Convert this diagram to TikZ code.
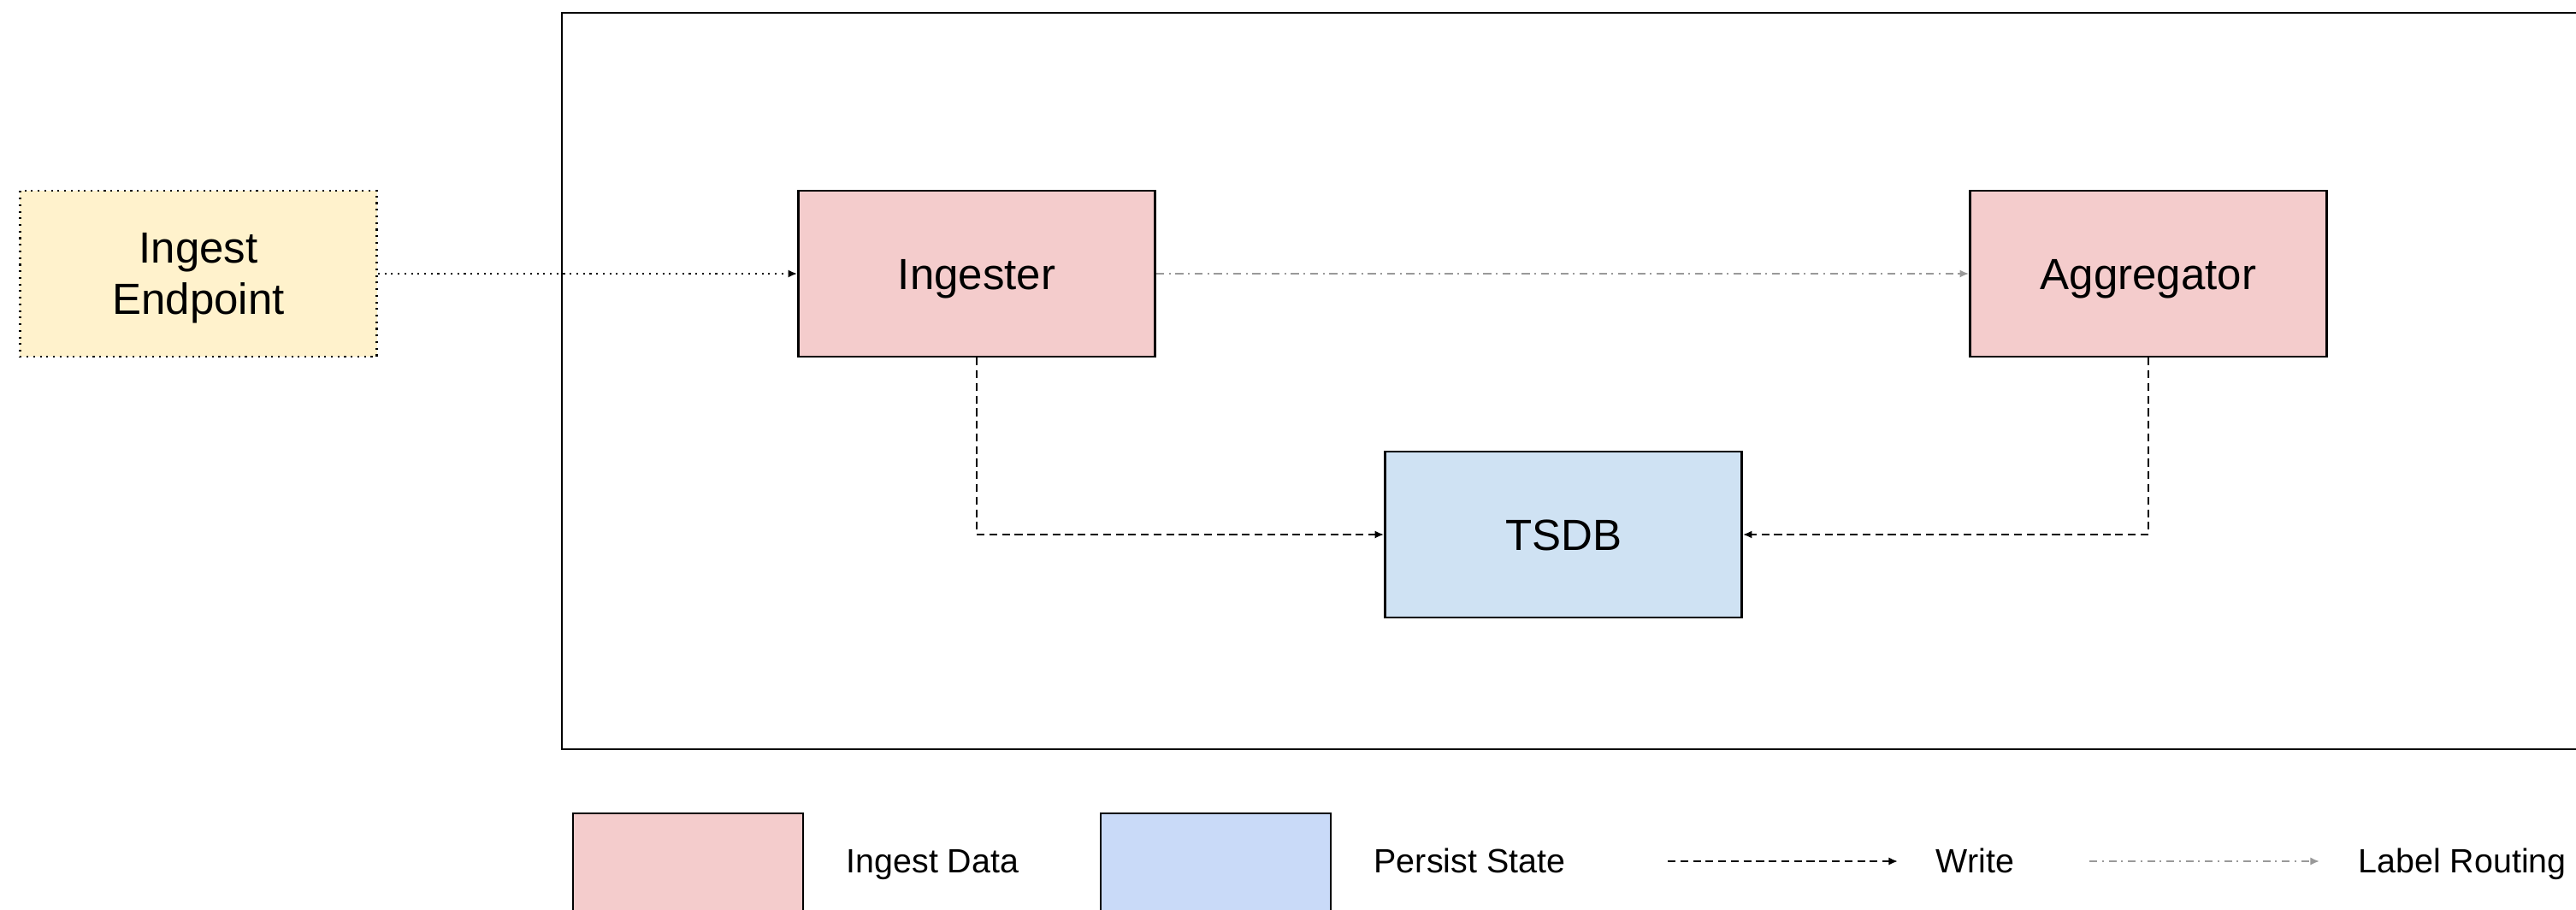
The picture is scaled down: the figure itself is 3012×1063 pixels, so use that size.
\documentclass[tikz,border=0pt]{standalone}
\usepackage{fontspec}
\setmainfont{Liberation Sans}
\usetikzlibrary{arrows.meta,positioning}

\definecolor{ingestred}{HTML}{F4CCCC}
\definecolor{stateblue}{HTML}{CFE2F3}
\definecolor{keyblue}{HTML}{C9DAF8}
\definecolor{endyellow}{HTML}{FFF2CC}
\definecolor{routegray}{HTML}{999999}

\tikzset{
  unit/.style={draw, line width=0.7pt, minimum width=4.17cm, minimum height=1.94cm,
    font=\fontsize{14.5}{17}\selectfont, align=center},
  oneline/.style={text height=10.4pt, text depth=0pt},
  writeline/.style={line width=0.6pt, dash pattern=on 2.6pt off 1.6pt, -{Latex[length=3pt,width=2.6pt]}},
  routeline/.style={line width=0.6pt, routegray, dash pattern=on 2.6pt off 1.6pt on 0.6pt off 1.6pt,
    -{Latex[length=3pt,width=2.6pt]}},
  feedline/.style={line width=0.6pt, dash pattern=on 0.6pt off 1.6pt, -{Latex[length=3pt,width=2.6pt]}},
  keytext/.style={anchor=base west, inner sep=0pt, font=\fontsize{11.2}{14}\selectfont}
}

\begin{document}
\begin{tikzpicture}[x=0.01cm, y=-0.01cm]
\clip (0,0) rectangle (3012,1063) ;
\useasboundingbox (0,0) rectangle (3012,1063) ;

\draw [line width=0.7pt] (657,15) rectangle (3100,876) ;

\node [unit, fill=endyellow, dash pattern=on 0.6pt off 1.6pt] (endpoint) at (232,320) {} ;
\node [font=\fontsize{14.5}{17}\selectfont, align=center, yshift=-1.6pt] (endtext) at (endpoint.center) {Ingest\\Endpoint} ;
\node [unit, oneline, fill=ingestred] (ingester) at (1142,320) {Ingester} ;
\node [unit, oneline, fill=ingestred] (aggregator) at (2512,320) {Aggregator} ;
\node [unit, oneline, fill=stateblue] (tsdb) at (1828,625) {TSDB} ;

\draw [feedline] (endpoint.east) -- (ingester.west) ;
\draw [routeline] (ingester.east) -- (aggregator.west) ;
\draw [writeline] (ingester.south) |- (tsdb.west) ;
\draw [writeline] (aggregator.south) |- (tsdb.east) ;

\draw [line width=0.7pt, fill=ingestred] (670,951) rectangle (939,1120) ;
\draw [line width=0.7pt, fill=keyblue] (1287,951) rectangle (1556,1120) ;
\node [keytext] (keyingest) at (989,1020) {Ingest Data} ;
\node [keytext] (keystate) at (1606,1020) {Persist State} ;

\coordinate (writea) at (1950,1007) ;
\coordinate (writeb) at (2219,1007) ;
\coordinate (routea) at (2443,1007) ;
\coordinate (routeb) at (2712,1007) ;
\draw [writeline] (writea) -- (writeb) ;
\draw [routeline] (routea) -- (routeb) ;
\node [keytext] (keywrite) at (2263,1020) {Write} ;
\node [keytext] (keyroute) at (2757,1020) {Label Routing} ;
\end{tikzpicture}
\end{document}
